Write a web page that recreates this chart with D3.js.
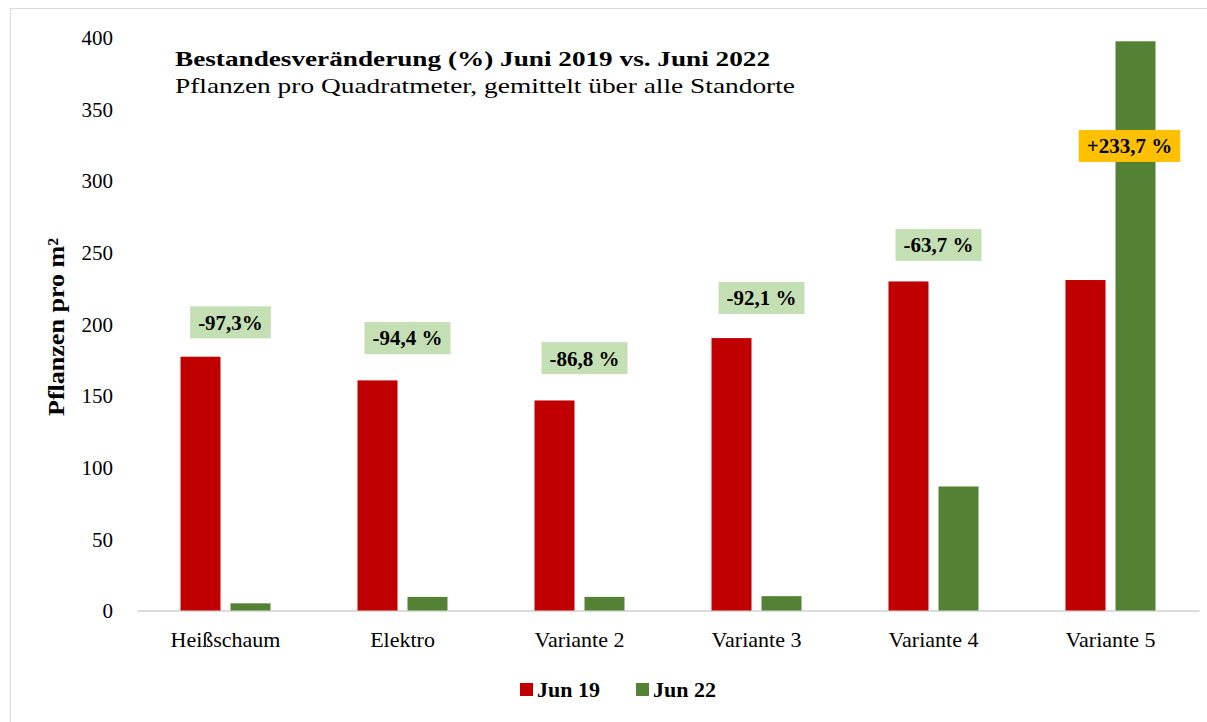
<!DOCTYPE html>
<html>
<head>
<meta charset="utf-8">
<script src="https://cdn.jsdelivr.net/npm/d3@7"></script>
<style>
  body { margin: 0; background: #fff; }
  text { font-family: "Liberation Serif", "Times New Roman", serif; fill: #000; }
</style>
</head>
<body>
<div id="chart"></div>
<script>
var categories = ["Heißschaum", "Elektro", "Variante 2", "Variante 3", "Variante 4", "Variante 5"];
var series = ["Jun 19", "Jun 22"];
var jun19 = [177, 160.5, 146.5, 190, 229.5, 230.5];
var jun22 = [5, 9.5, 9.5, 10, 86.5, 397];
var changeLabels = ["-97,3%", "-94,4 %", "-86,8 %", "-92,1 %", "-63,7 %", "+233,7 %"];
var labelLevels = [201, 190, 176, 218, 255, 324];
var yTicks = [0, 50, 100, 150, 200, 250, 300, 350, 400];
var colors = ["#c00000", "#548235"];

var width = 1207, height = 722;

var svg = d3.select("#chart").append("svg").attr("width", width).attr("height", height);

// rahmen
svg.append("rect").attr("x", 10.5).attr("y", 8.5).attr("width", 1220).attr("height", 730).attr("fill", "none").attr("stroke", "#d9d9d9");

var x = d3.scaleBand().domain(categories).range([137, 1199]).padding(0);
var xs = d3.scaleBand().domain(series).range([x.bandwidth() / 2 - 45, x.bandwidth() / 2 + 45]).paddingInner(0.2);
var y = d3.scaleLinear().domain([0, 400]).range([610.5, 37]);

// y achse
var yAxis = svg.append("g").attr("transform", "translate(113,0)").call(d3.axisLeft(y).tickValues(yTicks).tickSize(0).tickPadding(0));
yAxis.select(".domain").remove();
yAxis.selectAll("text").attr("font-size", 21).attr("font-family", "Liberation Serif").attr("fill", "#000").attr("dy", "0.35em");

// x achse
var xAxis = svg.append("g").attr("transform", "translate(0," + y(0) + ")").call(d3.axisBottom(x).tickSize(0).tickPadding(21));
xAxis.select(".domain").attr("stroke", "#d0d0d0").attr("stroke-width", 1.5);
xAxis.selectAll("text").attr("font-size", 22).attr("font-family", "Liberation Serif").attr("fill", "#000");

var rows = categories.map(function(c, i) { return {cat: c, vals: [jun19[i], jun22[i]], label: changeLabels[i], level: labelLevels[i]}; });

var groups = svg.append("g").selectAll("g").data(rows).join("g").attr("transform", d => "translate(" + x(d.cat) + ",0)");

groups.selectAll("rect").data(d => d.vals.map((v, j) => ({s: series[j], v: v, j: j}))).join("rect")
  .attr("x", d => xs(d.s)).attr("width", xs.bandwidth())
  .attr("y", d => y(d.v)).attr("height", d => y(0) - y(d.v))
  .attr("fill", d => colors[d.j]);

// prozent labels
groups.each(function(d, i) {
  var g = d3.select(this);
  var cx = x.bandwidth() / 2 + (i == 5 ? 19 : 5);
  var t = g.append("text").attr("x", cx).attr("y", y(d.level)).attr("dy", "0.35em").attr("text-anchor", "middle")
    .attr("font-size", 21).attr("font-weight", "bold").text(d.label);
  var bb = t.node().getBBox();
  g.insert("rect", "text").attr("x", bb.x - 8).attr("y", y(d.level) - 16).attr("width", bb.width + 16).attr("height", 32)
    .attr("fill", i == 5 ? "#ffc000" : "#c5dfb5");
});

// titel
svg.append("text").attr("x", 175).attr("y", 66).attr("font-size", 21).attr("font-weight", "bold")
  .attr("textLength", 595).attr("lengthAdjust", "spacingAndGlyphs").text("Bestandesveränderung (%) Juni 2019 vs. Juni 2022");
svg.append("text").attr("x", 175).attr("y", 93).attr("font-size", 21)
  .attr("textLength", 620).attr("lengthAdjust", "spacingAndGlyphs").text("Pflanzen pro Quadratmeter, gemittelt über alle Standorte");

// y titel
svg.append("text").attr("transform", "translate(64,327) rotate(-90)").attr("text-anchor", "middle").attr("font-size", 23).attr("font-weight", "bold")
  .attr("textLength", 178).attr("lengthAdjust", "spacingAndGlyphs").text("Pflanzen pro m²");

// legende
var legend = svg.append("g").selectAll("g").data(series).join("g").attr("transform", (d, i) => "translate(" + (520 + i * 116) + ",683)");
legend.append("rect").attr("width", 13).attr("height", 13).attr("fill", (d, i) => colors[i]);
legend.append("text").attr("x", 17).attr("y", 14).attr("font-size", 22).attr("font-weight", "bold").text(d => d);
</script>
</body>
</html>
